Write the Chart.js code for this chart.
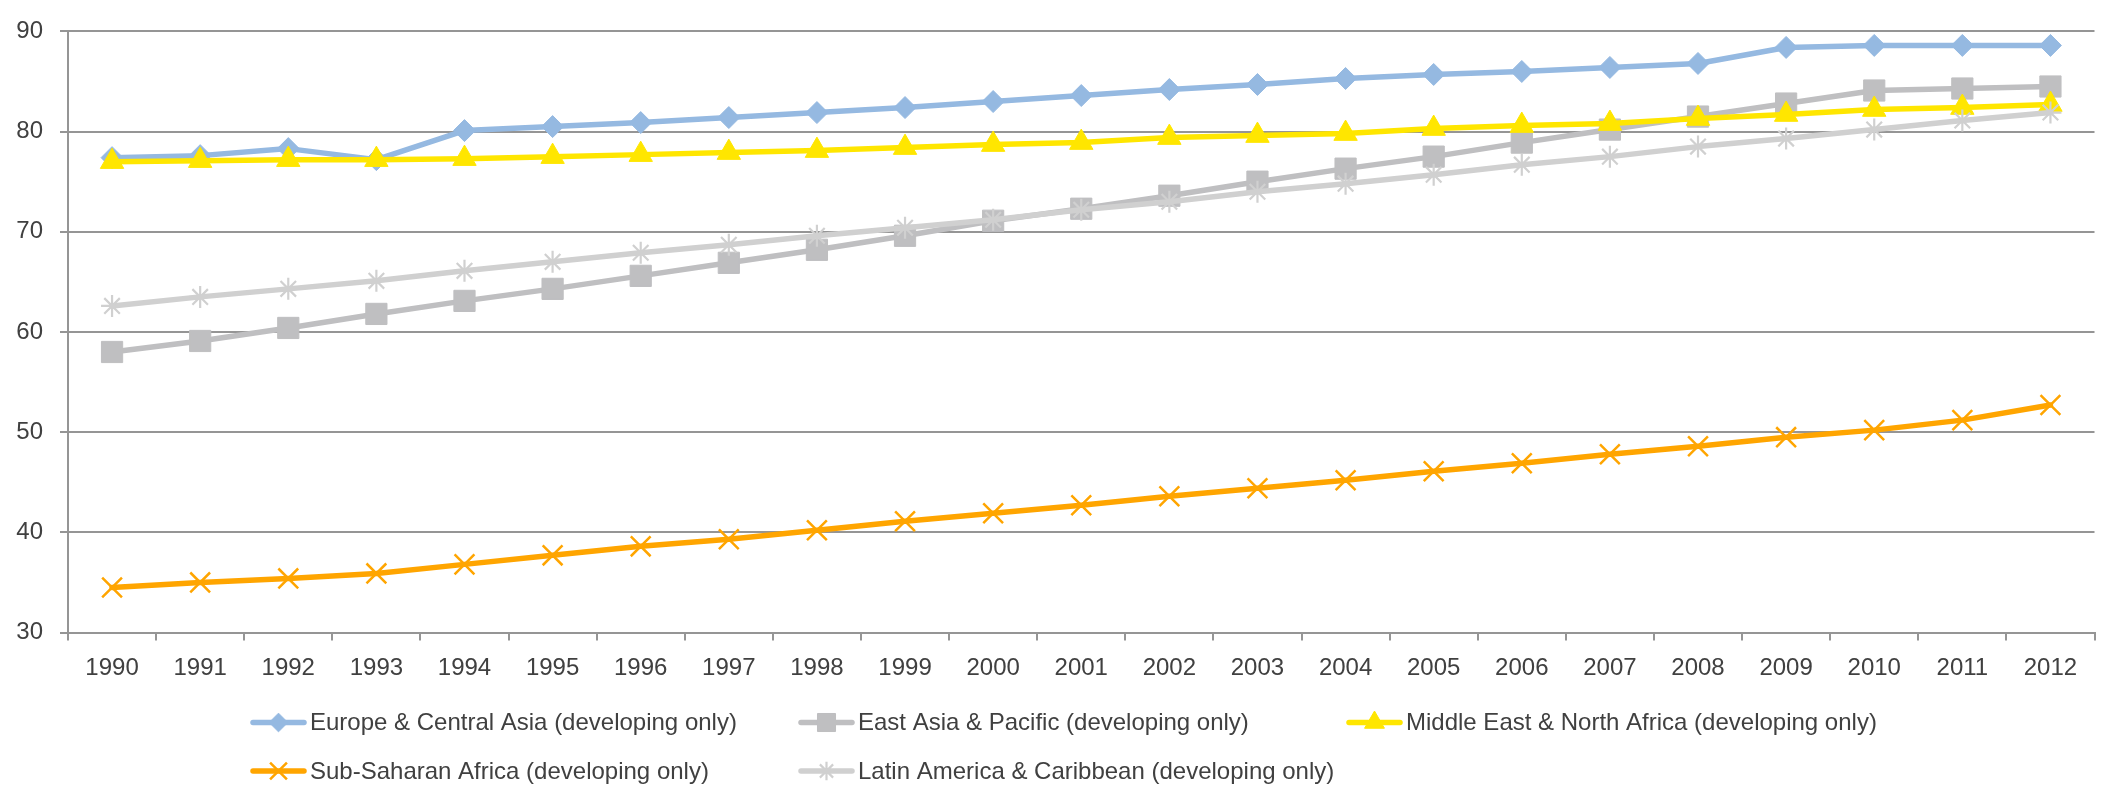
<!DOCTYPE html>
<html>
<head>
<meta charset="utf-8">
<script src="https://cdn.jsdelivr.net/npm/chart.js@4.4.1/dist/chart.umd.min.js"></script>
<style>
  html, body { margin: 0; padding: 0; background: #ffffff; overflow: hidden; }
  #wrap { width: 2111px; height: 786px; }
</style>
</head>
<body>
<div id="wrap"><canvas id="chart" width="2111" height="786"></canvas></div>
<script>
// Years on the category axis
const years = ['1990','1991','1992','1993','1994','1995','1996','1997','1998','1999','2000',
               '2001','2002','2003','2004','2005','2006','2007','2008','2009','2010','2011','2012'];

// Value axis ticks
const yTicks = [30, 40, 50, 60, 70, 80, 90];

// Series values by region (developing countries only)
const europeCentralAsia = [77.4, 77.6, 78.3, 77.2, 80.1, 80.5, 80.9, 81.4, 81.9, 82.4, 83.0, 83.6,
                           84.2, 84.7, 85.3, 85.7, 86.0, 86.4, 86.8, 88.4, 88.6, 88.6, 88.6];
const eastAsiaPacific   = [58.0, 59.1, 60.4, 61.8, 63.1, 64.3, 65.6, 66.9, 68.2, 69.6, 71.1, 72.3,
                           73.6, 75.0, 76.3, 77.5, 78.9, 80.2, 81.5, 82.8, 84.1, 84.3, 84.5];
const middleEastNAfrica = [77.0, 77.1, 77.2, 77.2, 77.3, 77.5, 77.7, 77.9, 78.1, 78.4, 78.7, 78.9,
                           79.4, 79.6, 79.8, 80.3, 80.6, 80.8, 81.3, 81.7, 82.2, 82.4, 82.7];
const subSaharanAfrica  = [34.5, 35.0, 35.4, 35.9, 36.8, 37.7, 38.6, 39.3, 40.2, 41.1, 41.9, 42.7,
                           43.6, 44.4, 45.2, 46.1, 46.9, 47.8, 48.6, 49.5, 50.2, 51.2, 52.7];
const latinAmericaCarib = [62.6, 63.5, 64.3, 65.1, 66.1, 67.0, 67.9, 68.7, 69.6, 70.4, 71.2, 72.2,
                           73.0, 74.0, 74.8, 75.7, 76.7, 77.5, 78.5, 79.3, 80.2, 81.1, 81.9];

const seriesNames = [
  'Europe & Central Asia (developing only)',
  'East Asia & Pacific (developing only)',
  'Middle East & North Africa (developing only)',
  'Sub-Saharan Africa (developing only)',
  'Latin America & Caribbean (developing only)'
];

const FONT = '"Liberation Sans", Arial, sans-serif';
const TEXT = '#404040';
const AXIS = '#959595';

function series(label, data, color, style, radius, pointBorder, order) {
  return {
    label, data, order,
    borderColor: color,
    backgroundColor: color,
    borderWidth: 5.5,
    borderCapStyle: 'round',
    borderJoinStyle: 'round',
    tension: 0,
    pointStyle: style,
    pointRadius: radius,
    pointHoverRadius: radius,
    pointBackgroundColor: color,
    pointBorderColor: color,
    pointBorderWidth: pointBorder
  };
}

// Legend laid out as a fixed grid of columns below the plot
const gridLegend = {
  id: 'gridLegend',
  afterDraw(chart, args, opts) {
    const ctx = chart.ctx;
    ctx.save();
    chart.data.datasets.forEach((ds, i) => {
      const col = i % opts.columns;
      const row = Math.floor(i / opts.columns);
      const x = opts.left + col * opts.colWidth;
      const y = opts.top + row * opts.rowHeight;
      ctx.strokeStyle = ds.borderColor;
      ctx.lineWidth = ds.borderWidth;
      ctx.lineCap = 'round';
      ctx.beginPath();
      ctx.moveTo(x + 2, y);
      ctx.lineTo(x + opts.lineLength - 2, y);
      ctx.stroke();
      ctx.fillStyle = ds.pointBackgroundColor;
      ctx.strokeStyle = ds.pointBorderColor;
      ctx.lineWidth = ds.pointBorderWidth;
      ctx.lineCap = 'butt';
      Chart.helpers.drawPoint(ctx, {
        pointStyle: ds.pointStyle,
        radius: ds.pointRadius * 0.85,
        borderWidth: ds.pointBorderWidth,
        rotation: 0
      }, x + opts.lineLength / 2, y);
      ctx.fillStyle = TEXT;
      ctx.font = '24px ' + FONT;
      ctx.textBaseline = 'middle';
      ctx.textAlign = 'left';
      ctx.fillText(ds.label, x + opts.lineLength + opts.gap, y + 1);
    });
    ctx.restore();
  }
};

new Chart(document.getElementById('chart'), {
  type: 'line',
  data: {
    labels: years,
    datasets: [
      series(seriesNames[0], europeCentralAsia, '#95b9e1', 'rectRot', 11, 1, 5),
      series(seriesNames[1], eastAsiaPacific,   '#bfbfc1', 'rect', 15, 1, 4),
      series(seriesNames[2], middleEastNAfrica, '#ffe600', 'triangle', 13.5, 1, 3),
      series(seriesNames[3], subSaharanAfrica,  '#ffa500', 'crossRot', 14, 2.5, 2),
      series(seriesNames[4], latinAmericaCarib, '#d0d0d0', 'star', 11, 2.2, 1)
    ]
  },
  options: {
    responsive: false,
    devicePixelRatio: 1,
    animation: false,
    events: [],
    layout: { padding: { left: 0, right: 6, top: 19, bottom: 103.5 } },
    plugins: {
      legend: { display: false },
      tooltip: { enabled: false },
      gridLegend: { columns: 3, left: 251, top: 722.5, colWidth: 548, rowHeight: 48.5, lineLength: 55, gap: 4 }
    },
    scales: {
      x: {
        offset: true,
        grid: {
          offset: true,
          drawOnChartArea: false,
          drawTicks: true,
          tickLength: 8,
          color: AXIS,
          lineWidth: 2
        },
        border: { display: true, color: AXIS, width: 2 },
        ticks: {
          color: TEXT,
          font: { family: FONT, size: 24 },
          padding: 13,
          maxRotation: 0,
          autoSkip: false
        },
        afterFit(scale) { scale.height = 50; }
      },
      y: {
        min: yTicks[0],
        max: yTicks[yTicks.length - 1],
        afterBuildTicks(scale) { scale.ticks = yTicks.map(v => ({ value: v })); },
        grid: {
          color: AXIS,
          lineWidth: 2,
          drawTicks: true,
          tickLength: 8
        },
        border: { display: true, color: AXIS, width: 2 },
        ticks: {
          color: TEXT,
          font: { family: FONT, size: 24 },
          padding: 17
        },
        afterFit(scale) { scale.width = 68; }
      }
    }
  },
  plugins: [gridLegend]
});
</script>
</body>
</html>
